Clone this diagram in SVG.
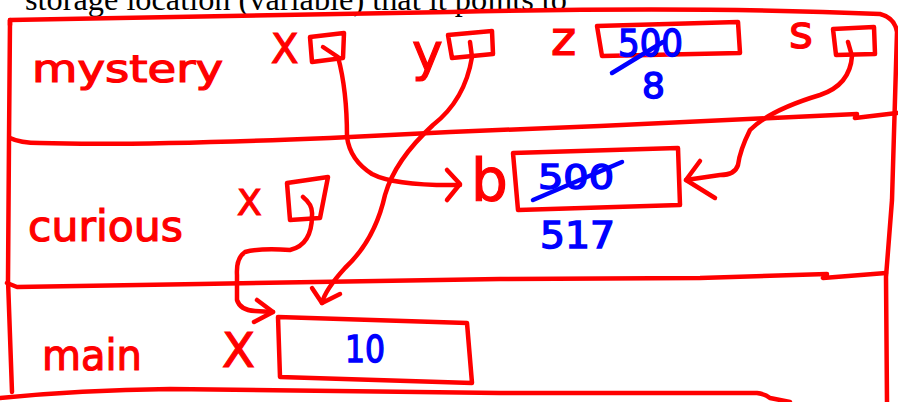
<svg xmlns="http://www.w3.org/2000/svg" width="898" height="402" viewBox="0 0 898 402">
<style>
.ln{fill:none;stroke:#ff0000;stroke-width:4.5;stroke-linecap:round;stroke-linejoin:round}
.bx{fill:none;stroke:#ff0000;stroke-width:4.5;stroke-linejoin:round}
.rt{fill:#ff0000;stroke:#ff0000;stroke-width:1.2;font-family:"DejaVu Sans","Liberation Sans",sans-serif}
.bt{fill:#0000ff;stroke:#0000ff;stroke-width:1.5;font-family:"DejaVu Sans","Liberation Sans",sans-serif}
.bs{fill:none;stroke:#0000ff;stroke-width:4.5;stroke-linecap:round}
.cap{fill:#000;font-family:"Liberation Serif","Times New Roman",serif;font-size:32px}
</style>
<rect width="898" height="402" fill="#fff"/>
<text class="cap" x="25" y="10" textLength="542" lengthAdjust="spacingAndGlyphs">storage location (variable) that it points to</text>
<g id="frame">
<path class="ln" d="M10,25 L10,20 Q200,16 450,12 Q700,6 880,14 Q895,18 897,32 L892,200 L886,277 L887,402"/>
<path class="ln" d="M10,20 L9,140 L8,280 L12,392"/>
<path class="ln" d="M10,138 Q20,143 40,143 Q130,146 330,138 L450,132 L600,126 L857,114 L855,118 L897,113"/>
<path class="ln" d="M7,283 L17,287 L200,284 L500,279 L700,278 L827,274 L823,278 L886,273"/>
<path class="ln" d="M0,398 Q80,390 170,389 L500,393 L757,393 Q765,394 770,398 L790,402"/>
</g>
<g id="mystery">
<text class="rt" x="32" y="82" font-size="38" textLength="191" lengthAdjust="spacingAndGlyphs">mystery</text>
<g id="mystery-x">
<text class="rt" x="271" y="63" font-size="40">X</text>
<path class="bx" d="M310,37 L344,33 L343,58 L312,62 Z"/>
</g>
<g id="mystery-y">
<text class="rt" x="412" y="70" font-size="52">y</text>
<path class="bx" d="M448,35 L492,31 L493,54 L452,58 Z"/>
</g>
<g id="mystery-z">
<text class="rt" x="551" y="55" font-size="48">z</text>
<path class="bx" d="M597,26 L738,22 L740,53 L602,56 Z"/>
<text class="bt" x="618" y="56" font-size="38" textLength="65" lengthAdjust="spacingAndGlyphs">500</text>
<line class="bs" x1="612" y1="73" x2="663" y2="42"/>
<text class="bt" x="642" y="98" font-size="36">8</text>
</g>
<g id="mystery-s">
<text class="rt" x="789" y="48" font-size="46">s</text>
<path class="bx" d="M833,29 L874,27 L875,54 L836,55 Z"/>
</g>
</g>
<g id="curious">
<text class="rt" x="28" y="241" font-size="42" textLength="155" lengthAdjust="spacingAndGlyphs">curious</text>
<g id="curious-x">
<text class="rt" x="237" y="215" font-size="36">X</text>
<path class="bx" d="M287,183 L328,177 L320,218 L290,220 Z"/>
</g>
<g id="curious-b">
<text class="rt" x="471" y="201" font-size="58">b</text>
<path class="bx" d="M513,153 L678,148 L680,205 L518,210 Z"/>
<text class="bt" x="538" y="189" font-size="34" textLength="76" lengthAdjust="spacingAndGlyphs">500</text>
<line class="bs" x1="533" y1="200" x2="622" y2="162"/>
<text class="bt" x="540" y="248" font-size="38" textLength="75" lengthAdjust="spacingAndGlyphs">517</text>
</g>
</g>
<g id="main">
<text class="rt" x="42" y="370" font-size="42" textLength="100" lengthAdjust="spacingAndGlyphs">main</text>
<g id="main-x">
<text class="rt" x="222" y="367" font-size="48">X</text>
<path class="bx" d="M278,317 L467,323 L472,383 L280,377 Z"/>
<text class="bt" x="345" y="362" font-size="38" textLength="40" lengthAdjust="spacingAndGlyphs">10</text>
</g>
</g>
<g id="connectors">
<path class="ln" d="M323,47 L338,57 Q347,90 347,137 Q350,160 372,174 Q395,186 460,185"/>
<path class="ln" d="M447,170 L460,184 L447,200"/>
<path class="ln" d="M470,42 L472,57 Q465,100 433,125 Q395,160 385,195 Q375,240 345,268 Q325,290 322,303"/>
<path class="ln" d="M312,288 L322,303 L340,294"/>
<path class="ln" d="M848,42 L852,56 Q850,85 820,95 Q770,110 750,130 Q740,150 738,165 Q735,175 720,175 L686,180"/>
<path class="ln" d="M700,161 L686,180 L715,198"/>
<path class="ln" d="M303,197 Q313,205 312,215 Q312,245 290,250 Q260,248 245,252 Q236,258 237,275 L237,300 Q240,310 255,311 L273,312"/>
<path class="ln" d="M257,300 L273,312 L254,322"/>
</g>
</svg>
